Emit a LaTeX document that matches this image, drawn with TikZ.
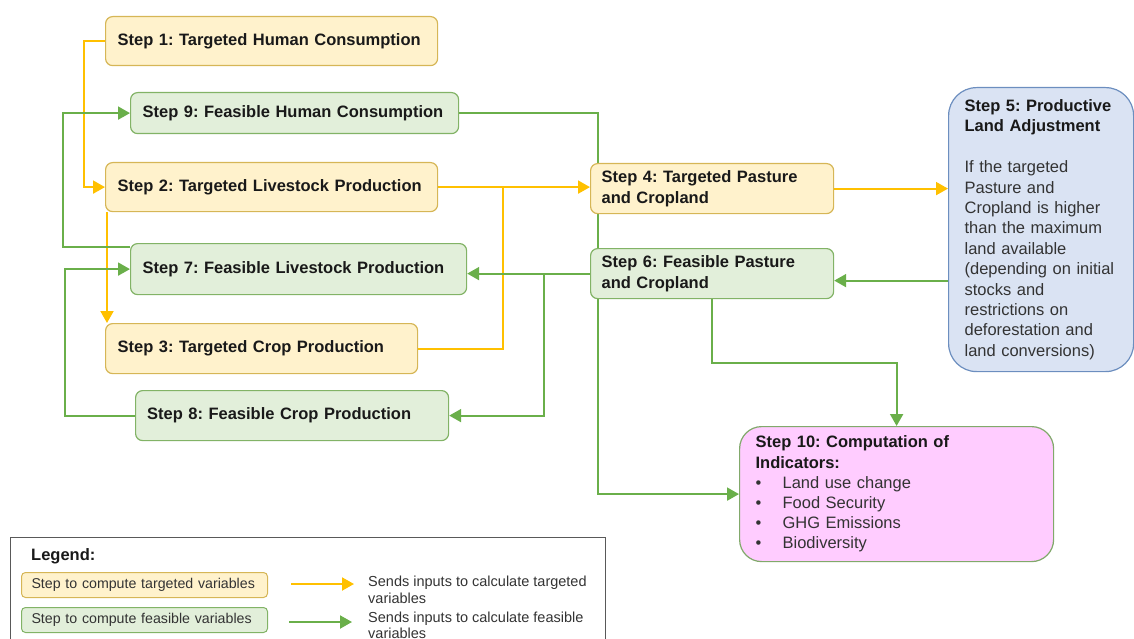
\documentclass[tikz,border=0pt]{standalone}
\usepackage{fontspec}
\setmainfont{Liberation Sans}
\usetikzlibrary{positioning}
\usetikzlibrary{arrows.meta}
\usetikzlibrary{backgrounds}

\frenchspacing
\hyphenpenalty=10000
\exhyphenpenalty=10000

\definecolor{tgtfill}{HTML}{FFF2CC}
\definecolor{tgtline}{HTML}{D6B656}
\definecolor{feafill}{HTML}{E2EFDA}
\definecolor{fealine}{HTML}{82B366}
\definecolor{adjfill}{HTML}{DAE3F3}
\definecolor{adjline}{HTML}{6C8EBF}
\definecolor{indfill}{HTML}{FFCCFF}
\definecolor{tgtarrow}{HTML}{FFC000}
\definecolor{feaarrow}{HTML}{6AAF4A}
\definecolor{bodytext}{HTML}{333333}

\begin{document}
\begin{tikzpicture}[x=1pt, y=-1pt,
  stepbox/.style={draw, line width=1.2pt, rounded corners=7pt, anchor=north west,
    align=left, inner xsep=12pt, inner ysep=0pt, text=black!90,
    font=\fontsize{16.5}{20.4}\selectfont\bfseries},
  tgtbox/.style={stepbox, fill=tgtfill, draw=tgtline},
  feabox/.style={stepbox, fill=feafill, draw=fealine},
  keybox/.style={rounded corners=4pt, line width=1pt, inner xsep=10pt, minimum height=25pt,
    text width=226pt, text=bodytext, font=\fontsize{14.2}{16}\selectfont},
  legtext/.style={anchor=west, align=left, inner sep=0pt, text=bodytext,
    font=\fontsize{14.5}{16.5}\selectfont},
  tgtflow/.style={draw=tgtarrow, line width=2pt, -{Triangle[length=12pt,width=13pt]}},
  tgtjoin/.style={draw=tgtarrow, line width=2pt},
  feaflow/.style={draw=feaarrow, line width=2pt, -{Triangle[length=12pt,width=13pt]}}]

  \useasboundingbox (0,0) rectangle (1134,639);
  \clip (0,0) rectangle (1134,639);

  % steps
  \node[tgtbox, text width=308pt, minimum height=49pt] (s1) at (105,16) {Step 1: Targeted Human Consumption};
  \node[feabox, text width=304pt, minimum height=41pt] (s9) at (130,92) {Step 9: Feasible Human Consumption};
  \node[tgtbox, text width=308pt, minimum height=49pt] (s2) at (105,162) {Step 2: Targeted Livestock Production};
  \node[feabox, text width=312pt, minimum height=51pt] (s7) at (130,243) {Step 7: Feasible Livestock Production};
  \node[tgtbox, text width=288pt, minimum height=50pt] (s3) at (105,323) {Step 3: Targeted Crop Production};
  \node[feabox, text width=290pt, minimum height=50pt, inner xsep=11.5pt] (s8) at (135,390) {Step 8: Feasible Crop Production};
  \node[tgtbox, text width=221pt, minimum height=50pt, inner xsep=11pt] (s4) at (590,163) {Step 4: Targeted Pasture\\and Cropland};
  \node[feabox, text width=221pt, minimum height=50pt, inner xsep=11pt] (s6) at (590,248) {Step 6: Feasible Pasture\\and Cropland};
  \node[stepbox, fill=adjfill, draw=adjline, rounded corners=28pt, inner xsep=16pt,
        text width=153pt, minimum height=284pt, font=\fontsize{16.5}{20.4}\selectfont, text=bodytext] (s5) at (948,87)
    {{\bfseries\color{black!90}Step 5: Productive\\Land Adjustment}\\[20.4pt]
     If the targeted\\Pasture and\\Cropland is higher\\than the maximum\\land available\\(depending on initial\\stocks and\\restrictions on\\deforestation and\\land conversions)};
  \node[stepbox, fill=indfill, draw=fealine!80!gray, rounded corners=22pt, inner xsep=16pt,
        text width=282pt, minimum height=135pt, font=\fontsize{16.5}{20.2}\selectfont, text=bodytext] (s10) at (739,426)
    {{\bfseries\color{black!90}Step 10: Computation of\\Indicators:}\\
     \makebox[27pt][l]{\textbullet}Land use change\\
     \makebox[27pt][l]{\textbullet}Food Security\\
     \makebox[27pt][l]{\textbullet}GHG Emissions\\
     \makebox[27pt][l]{\textbullet}Biodiversity};

  % legend
  \draw[draw=black!65, line width=1pt] (10,537) rectangle (605,660);
  \node[anchor=west, inner sep=0pt, text=black!90, font=\fontsize{16.5}{20}\selectfont\bfseries] (leg) at (31,556) {Legend:};
  \node[tgtbox, keybox] (kt) at (21,572) {Step to compute targeted variables};
  \node[feabox, keybox] (kf) at (21,607) {Step to compute feasible variables};
  \coordinate (ta) at (291,584);
  \coordinate (tb) at (354,584);
  \coordinate (fa) at (289,622);
  \coordinate (fb) at (352,622);
  \draw[tgtflow] (ta) -- (tb);
  \draw[feaflow] (fa) -- (fb);
  \node[legtext] (lt) at (368,590) {Sends inputs to calculate targeted\\variables};
  \node[legtext] (lf) at (368,625.5) {Sends inputs to calculate feasible\\variables};

  % connectors
  \begin{scope}[on background layer]
    \coordinate (s2out) at ([xshift=2pt]s2.south west);
    \coordinate (s6in) at ([yshift=-7pt]s6.east);
    \coordinate (j1) at (503,187);
    \coordinate (j2) at (544,273);
    \coordinate (j3) at (598,300);
    \draw[tgtflow] (s1.west) -- ++(-21,0) |- (s2.west);
    \draw[tgtflow] (s2out) -- (s2out |- s3.north);
    \draw[tgtflow] (s2.east) -- (s2.east -| s4.west);
    \draw[tgtjoin] (s3.east) -| (j1);
    \draw[tgtflow] (s4.east) -- (s4.east -| s5.west);
    \draw[feaflow] (s6in -| s5.west) -- (s6in);
    \draw[feaflow] (s6.west) -- (s6.west -| s7.east);
    \draw[feaflow] (j2) |- (s8.east);
    \draw[feaflow] (s9.east) -| (j3) |- (s10.west);
    \draw[feaflow] (s6.south) -- ++(0,64) -| (s10.north);
    \draw[feaflow] ([yshift=-4pt]s7.north west) -- ++(-67,0) |- (s9.west);
    \draw[feaflow] (s8.west) -- ++(-70,0) |- (s7.west);
  \end{scope}
\end{tikzpicture}
\end{document}
